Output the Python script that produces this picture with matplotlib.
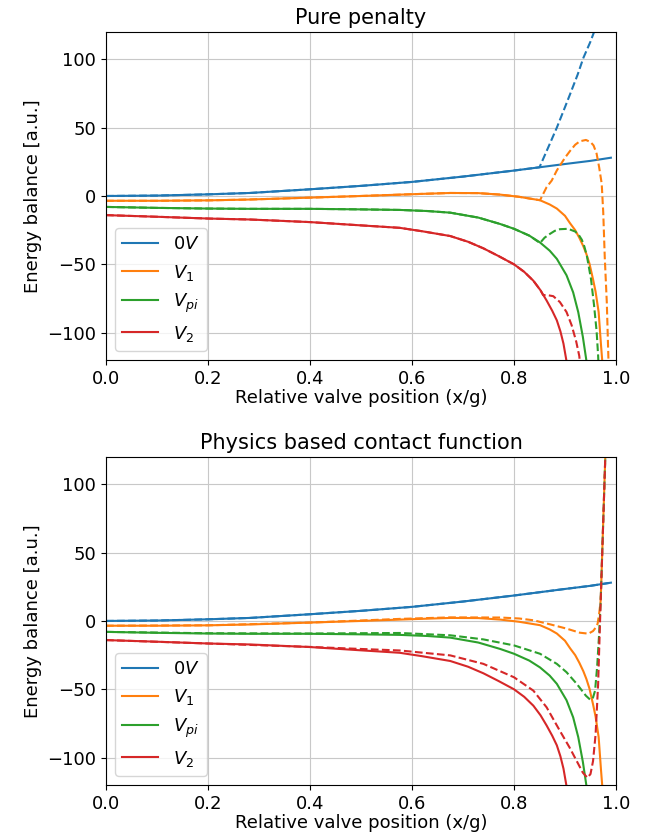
import matplotlib
matplotlib.use('Agg')

import matplotlib.pyplot as plt

# Curvas sin contacto (iguales en ambos paneles)
x_0v = [0, 0.1, 0.2, 0.282, 0.4, 0.5, 0.6, 0.7, 0.8, 0.85, 0.9, 0.95, 0.99]
e_0v = [0, 0.3, 1.2, 2.2, 4.9, 7.4, 10.3, 14.2, 18.6, 21.0, 23.4, 25.7, 28.0]

x_v1 = [0, 0.1, 0.2, 0.28, 0.4, 0.5, 0.6, 0.675, 0.73, 0.773, 0.81, 0.851, 0.87,
        0.884, 0.9, 0.91, 0.92, 0.928, 0.936, 0.942, 0.948, 0.955, 0.96, 0.966,
        0.9706, 0.974]
e_v1 = [-3.5, -3.5, -3.2, -2.6, -1.2, 0, 1.3, 2.2, 2.1, 1.0, -0.6, -3.1, -6.2,
        -9.2, -14.5, -20, -25, -30.5, -36.8, -42.5, -49.5, -61, -70, -85,
        -109, -125]

x_vpi = [0, 0.1, 0.2, 0.28, 0.4, 0.5, 0.576, 0.63, 0.675, 0.73, 0.773, 0.8, 0.83,
         0.851, 0.87, 0.884, 0.903, 0.916, 0.926, 0.935, 0.941, 0.945]
e_vpi = [-8, -8.7, -9.2, -9.4, -9.4, -9.8, -10.2, -11, -12.2, -15.8, -20.5, -24, -29,
         -34, -40, -46, -58, -70.5, -85, -103, -118, -128]

x_v2 = [0, 0.1, 0.2, 0.282, 0.4, 0.5, 0.576, 0.62, 0.675, 0.71, 0.74, 0.77, 0.8,
        0.82, 0.838, 0.852, 0.864, 0.875, 0.884, 0.891, 0.897, 0.904]
e_v2 = [-14, -15.2, -16.5, -17.2, -19.1, -21.5, -23.3, -25.8, -29.3, -33.5, -38.3,
        -44, -50, -55.5, -62, -69, -76.5, -84, -91, -99, -108, -123]

# Penalizacion pura: ramas a partir del contacto
xp_0v = [0.85, 0.87, 0.884, 0.9, 0.91, 0.925, 0.936, 0.95, 0.96]
ep_0v = [21, 38, 50, 65, 74.5, 89, 101, 113, 123]

xp_v1 = [0.851, 0.864, 0.874, 0.884, 0.9, 0.91, 0.92, 0.929, 0.941, 0.95, 0.956,
         0.962, 0.967, 0.972, 0.975, 0.978, 0.982, 0.985, 0.986]
ep_v1 = [-3.1, 6.5, 11.3, 18.7, 28, 33, 37.5, 40, 41, 39.5, 37,
         31, 21, 9, -12, -45, -78, -117, -130]

xp_vpi = [0.851, 0.86, 0.871, 0.88, 0.89, 0.906, 0.92, 0.927, 0.933, 0.938,
          0.943, 0.951, 0.957, 0.962, 0.965, 0.966]
ep_vpi = [-34.4, -30.5, -27.6, -25.5, -24.3, -24, -26, -28.5, -32, -37,
          -44, -60.8, -80, -99, -117, -126]

xp_v2 = [0.857, 0.865, 0.877, 0.89, 0.903, 0.913, 0.922, 0.928, 0.93]
ep_v2 = [-72.5, -72.5, -73.3, -77.6, -84.9, -94.5, -106.5, -117, -125]

# Funcion de contacto fisica
xc_v1 = [0, 0.2, 0.4, 0.576, 0.675, 0.773, 0.81, 0.838, 0.871, 0.903, 0.929,
         0.946, 0.955, 0.96, 0.964, 0.967, 0.97, 0.972, 0.975, 0.978, 0.98]
ec_v1 = [-3.5, -3.2, -1.2, 1.5, 2.6, 2.5, 1.8, 0.5, -2.5, -5.6, -8.6,
         -9.3, -7.4, -5, -2, 5.4, 15, 38, 73, 108, 131]

xc_vpi = [0, 0.2, 0.4, 0.576, 0.675, 0.74, 0.8, 0.851, 0.884, 0.903, 0.923,
          0.941, 0.95, 0.955, 0.959, 0.963, 0.967, 0.97, 0.972, 0.975, 0.978, 0.98]
ec_vpi = [-8, -9, -9.2, -8.8, -10.5, -13.5, -17.9, -24, -31.4, -37.5, -46,
          -54.7, -57.8, -56, -51, -33.8, -9.3, 15, 38, 73, 108, 131]

xc_v2 = [0, 0.2, 0.4, 0.5, 0.576, 0.675, 0.74, 0.8, 0.838, 0.864, 0.89, 0.909,
         0.923, 0.935, 0.944, 0.95, 0.955, 0.96, 0.965, 0.968, 0.97, 0.972,
         0.975, 0.978, 0.98]
ec_v2 = [-14, -16.5, -19, -20.5, -21.6, -25.2, -31.4, -41.2, -51, -63.2, -80.4,
         -92.6, -102.5, -111, -114.7, -112, -102.5, -83, -46, -9.3, 15, 38,
         73, 108, 131]

etiquetas = ['$0V$', '$V_1$', '$V_{pi}$', '$V_2$']
colores = ['tab:blue', 'tab:orange', 'tab:green', 'tab:red']
sin_contacto = [(x_0v, e_0v), (x_v1, e_v1), (x_vpi, e_vpi), (x_v2, e_v2)]


def hasta(x, e, x_lim):
    # tramo de la curva sin contacto antes de la rama
    xs = [a for a in x if a < x_lim]
    return xs, e[:len(xs)]


penalizacion = []
for (x, e), (xb, eb) in zip(sin_contacto, [(xp_0v, ep_0v), (xp_v1, ep_v1),
                                          (xp_vpi, ep_vpi), (xp_v2, ep_v2)]):
    xs, es = hasta(x, e, xb[0])
    penalizacion.append((xs + xb, es + eb))

contacto = [(x_0v, e_0v), (xc_v1, ec_v1), (xc_vpi, ec_vpi), (xc_v2, ec_v2)]

plt.rcParams['font.size'] = 13

fig = plt.figure(figsize=(6.48, 8.39), dpi=100)
ax1 = fig.add_axes([0.1636, 0.5709, 0.787, 0.391])
ax2 = fig.add_axes([0.1636, 0.0644, 0.787, 0.391])

for ax, discontinuas, titulo in [(ax1, penalizacion, 'Pure penalty'),
                                 (ax2, contacto, 'Physics based contact function')]:
    for (x, e), c, lab in zip(sin_contacto, colores, etiquetas):
        ax.plot(x, e, color=c, label=lab)
    for (x, e), c in zip(discontinuas, colores):
        ax.plot(x, e, '--', color=c)
    ax.set_xlim(0, 1)
    ax.set_ylim(-120, 120)
    ax.set_yticks([-100, -50, 0, 50, 100])
    ax.grid(True, color='#c8c8c8')
    ax.set_title(titulo, fontsize=15)
    ax.set_xlabel('Relative valve position (x/g)', labelpad=1)
    ax.set_ylabel('Energy balance [a.u.]')
    ax.legend(loc='lower left')

plt.savefig('out.png', dpi=100)
